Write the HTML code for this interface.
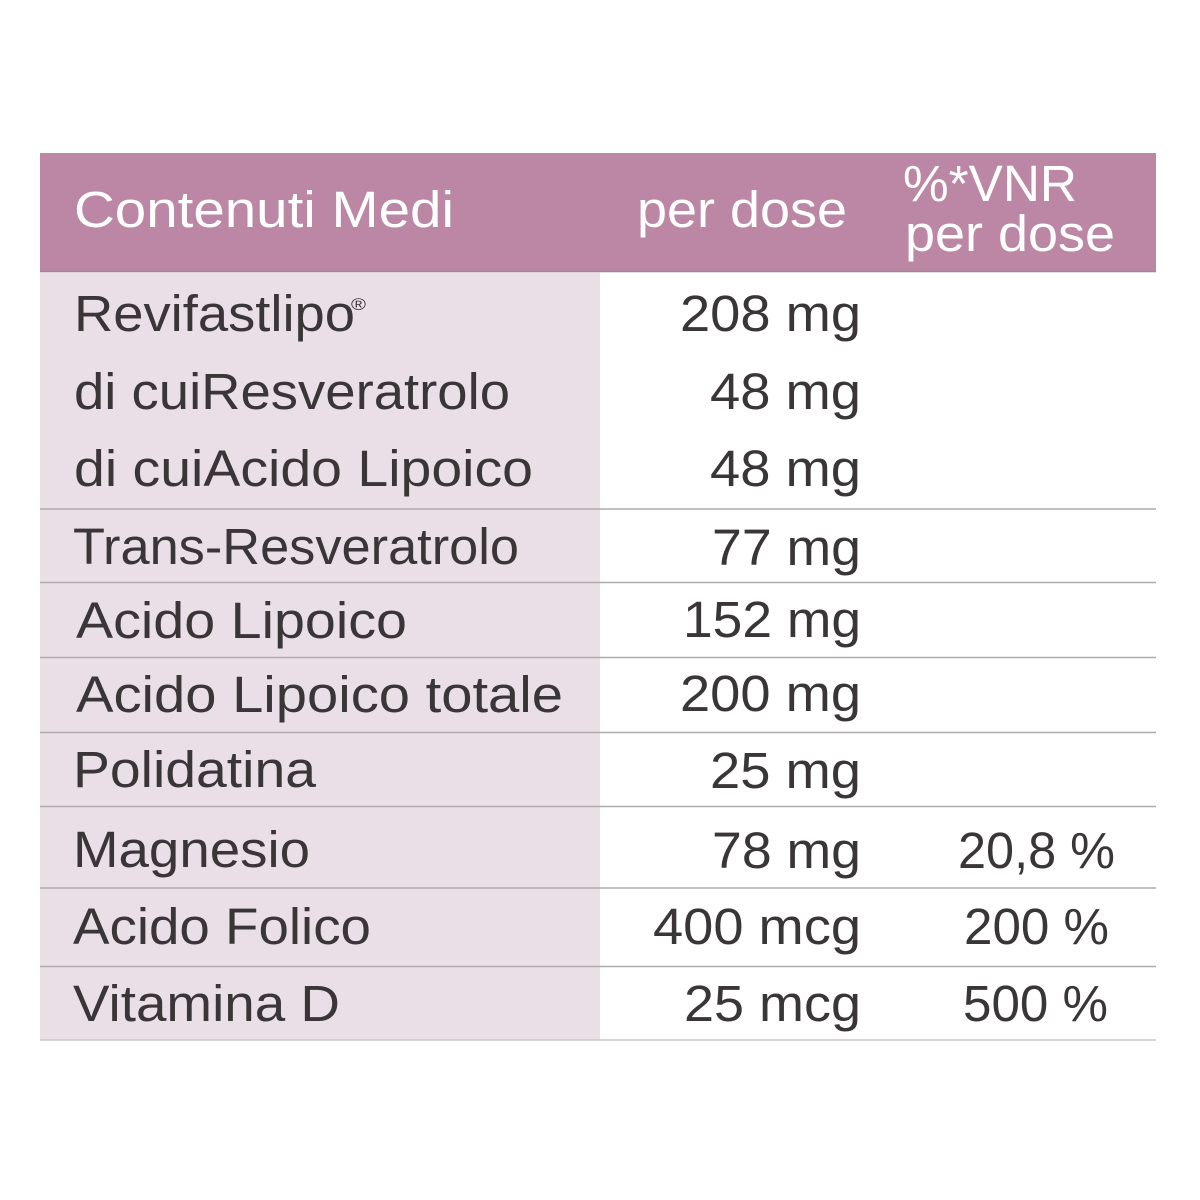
<!DOCTYPE html>
<html>
<head>
<meta charset="utf-8">
<style>
  html, body { margin: 0; padding: 0; background: #ffffff; }
  svg { display: block; }
  .h { font-family: "Liberation Sans", sans-serif; font-size: 51px; fill: #ffffff; }
  .t { font-family: "Liberation Sans", sans-serif; font-size: 51px; fill: #3a3638; }
</style>
</head>
<body>
<svg width="1200" height="1200" viewBox="0 0 1200 1200" xmlns="http://www.w3.org/2000/svg">
  <rect x="0" y="0" width="1200" height="1200" fill="#ffffff"/>
  <!-- header -->
  <rect x="40" y="153" width="1116" height="118" fill="#bc87a5"/>
  <line x1="40" y1="271.5" x2="1156" y2="271.5" stroke="#9a8a94" stroke-width="1.5"/>
  <!-- pink first column -->
  <rect x="40" y="272.5" width="560" height="767.5" fill="#ebdfe7"/>

  <!-- row separators -->
  <g stroke="#aeaaad" stroke-width="1.5">
    <line x1="40" y1="509" x2="1156" y2="509"/>
    <line x1="40" y1="582.5" x2="1156" y2="582.5"/>
    <line x1="40" y1="657.5" x2="1156" y2="657.5"/>
    <line x1="40" y1="732.5" x2="1156" y2="732.5"/>
    <line x1="40" y1="806.5" x2="1156" y2="806.5"/>
    <line x1="40" y1="888" x2="1156" y2="888"/>
    <line x1="40" y1="966.5" x2="1156" y2="966.5"/>
  </g>
  <line x1="40" y1="1040" x2="1156" y2="1040" stroke="#c8c6c7" stroke-width="1.5"/>

  <!-- header text -->
  <text class="h" x="74" y="227" textLength="380" lengthAdjust="spacingAndGlyphs">Contenuti Medi</text>
  <text class="h" x="637" y="227" textLength="210" lengthAdjust="spacingAndGlyphs">per dose</text>
  <text class="h" x="903" y="201" textLength="174" lengthAdjust="spacingAndGlyphs">%*VNR</text>
  <text class="h" x="905" y="251" textLength="210" lengthAdjust="spacingAndGlyphs">per dose</text>

  <!-- left column -->
  <text class="t" x="74" y="331" textLength="281" lengthAdjust="spacingAndGlyphs">Revifastlipo</text>
  <text class="t" x="351" y="310" style="font-size:17px" textLength="15" lengthAdjust="spacingAndGlyphs">®</text>
  <text class="t" x="74" y="409" textLength="436" lengthAdjust="spacingAndGlyphs">di cuiResveratrolo</text>
  <text class="t" x="74" y="486" textLength="459" lengthAdjust="spacingAndGlyphs">di cuiAcido Lipoico</text>
  <text class="t" x="73" y="564" textLength="446" lengthAdjust="spacingAndGlyphs">Trans-Resveratrolo</text>
  <text class="t" x="76" y="638" textLength="331" lengthAdjust="spacingAndGlyphs">Acido Lipoico</text>
  <text class="t" x="76" y="712" textLength="487" lengthAdjust="spacingAndGlyphs">Acido Lipoico totale</text>
  <text class="t" x="73" y="787" textLength="243" lengthAdjust="spacingAndGlyphs">Polidatina</text>
  <text class="t" x="73" y="867" textLength="237" lengthAdjust="spacingAndGlyphs">Magnesio</text>
  <text class="t" x="73" y="944" textLength="298" lengthAdjust="spacingAndGlyphs">Acido Folico</text>
  <text class="t" x="73" y="1021" textLength="267" lengthAdjust="spacingAndGlyphs">Vitamina D</text>

  <!-- per dose values -->
  <text class="t" x="680" y="331" textLength="181" lengthAdjust="spacingAndGlyphs">208 mg</text>
  <text class="t" x="710" y="409" textLength="151" lengthAdjust="spacingAndGlyphs">48 mg</text>
  <text class="t" x="710" y="486" textLength="151" lengthAdjust="spacingAndGlyphs">48 mg</text>
  <text class="t" x="712" y="565" textLength="149" lengthAdjust="spacingAndGlyphs">77 mg</text>
  <text class="t" x="683" y="637" textLength="178" lengthAdjust="spacingAndGlyphs">152 mg</text>
  <text class="t" x="680" y="711" textLength="181" lengthAdjust="spacingAndGlyphs">200 mg</text>
  <text class="t" x="710" y="788" textLength="151" lengthAdjust="spacingAndGlyphs">25 mg</text>
  <text class="t" x="712" y="868" textLength="149" lengthAdjust="spacingAndGlyphs">78 mg</text>
  <text class="t" x="653" y="944" textLength="208" lengthAdjust="spacingAndGlyphs">400 mcg</text>
  <text class="t" x="684" y="1021" textLength="177" lengthAdjust="spacingAndGlyphs">25 mcg</text>

  <!-- VNR values -->
  <text class="t" x="958" y="868" textLength="157" lengthAdjust="spacingAndGlyphs">20,8 %</text>
  <text class="t" x="964" y="944" textLength="145" lengthAdjust="spacingAndGlyphs">200 %</text>
  <text class="t" x="963" y="1021" textLength="145" lengthAdjust="spacingAndGlyphs">500 %</text>
</svg>
</body>
</html>
